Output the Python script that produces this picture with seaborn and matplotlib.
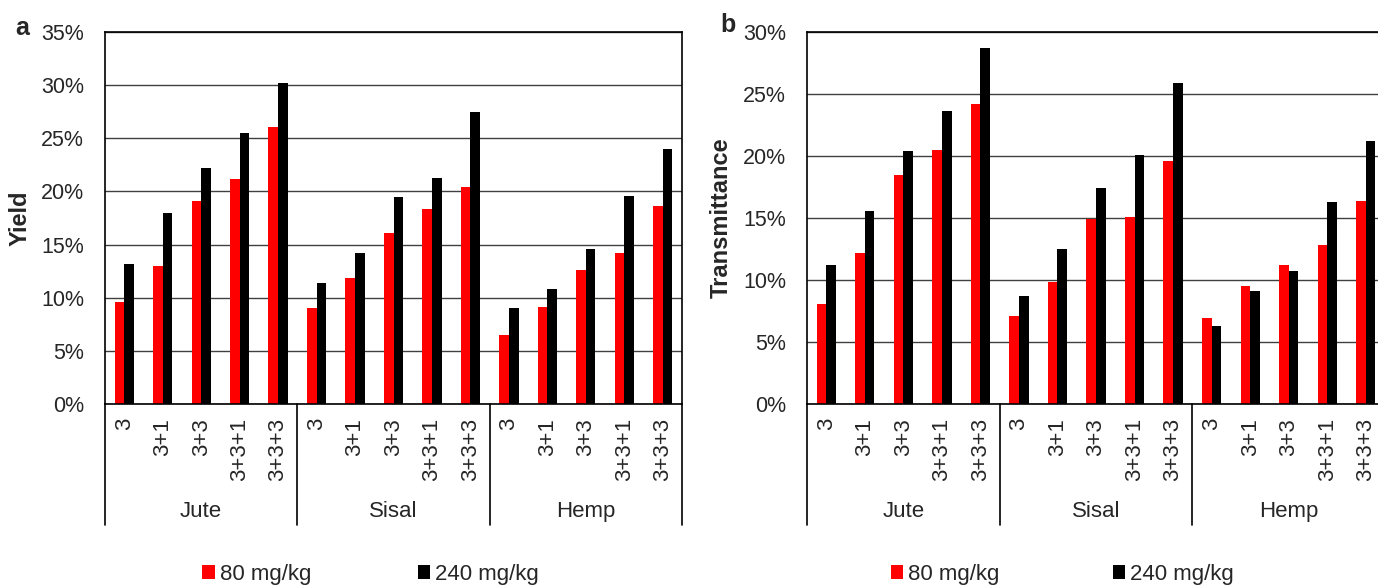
import numpy as np
import pandas as pd
import matplotlib
matplotlib.use('Agg')
import matplotlib.pyplot as plt
import seaborn as sns
from matplotlib.ticker import PercentFormatter, MultipleLocator
from matplotlib.transforms import blended_transform_factory

# data (percent values)
fibers = ['Jute', 'Sisal', 'Hemp']
treatments = ['3', '3+1', '3+3', '3+3+1', '3+3+3']
doses = ['80 mg/kg', '240 mg/kg']

yield_80 = [9.6, 13.0, 19.1, 21.2, 26.1,
            9.0, 11.9, 16.1, 18.3, 20.4,
            6.5, 9.1, 12.6, 14.2, 18.6]
yield_240 = [13.2, 18.0, 22.2, 25.5, 30.2,
             11.4, 14.2, 19.5, 21.3, 27.5,
             9.0, 10.8, 14.6, 19.6, 24.0]
trans_80 = [8.1, 12.2, 18.5, 20.5, 24.2,
            7.1, 9.8, 14.9, 15.1, 19.6,
            6.9, 9.5, 11.2, 12.8, 16.4]
trans_240 = [11.2, 15.6, 20.4, 23.6, 28.7,
             8.7, 12.5, 17.4, 20.1, 25.9,
             6.3, 9.1, 10.7, 16.3, 21.2]

sns.set_style('white')
plt.rcParams['font.family'] = ['Liberation Sans', 'DejaVu Sans']


def make_df(v80, v240):
    rows = []
    for i, f in enumerate(fibers):
        for j, t in enumerate(treatments):
            k = i * len(treatments) + j
            rows.append((f + '|' + t, doses[0], v80[k] / 100))
            rows.append((f + '|' + t, doses[1], v240[k] / 100))
    return pd.DataFrame(rows, columns=['cat', 'dose', 'value'])


def draw(ax, df, ymax, ylabel, label_x):
    sns.barplot(data=df, x='cat', y='value', hue='dose', hue_order=doses,
                palette=['#ff0000', '#000000'], width=0.5, errorbar=None,
                saturation=1, linewidth=0, ax=ax)
    n = len(fibers) * len(treatments)
    ax.set_ylim(0, ymax)
    ax.yaxis.set_major_locator(MultipleLocator(0.05))
    ax.yaxis.set_major_formatter(PercentFormatter(1.0, decimals=0))
    ax.yaxis.grid(True, color='#404040', lw=1)
    ax.xaxis.grid(False)
    ax.set_axisbelow(True)
    for s in ax.spines.values():
        s.set_visible(True)
        s.set_color('black')
        s.set_linewidth(1.2)
    ax.set_xlabel('')
    ax.set_ylabel(ylabel, fontweight='bold', fontsize=17)
    ax.yaxis.set_label_coords(label_x, 0.5)
    ax.tick_params(axis='y', length=0, pad=15, labelsize=15.5)
    ax.set_xticks(range(n))
    ax.set_xticklabels(treatments * len(fibers), rotation=90, va='top', ha='center')
    ax.tick_params(axis='x', length=0, pad=10, labelsize=16)

    # group separators and fiber names below the axis
    tr = blended_transform_factory(ax.transData, ax.transAxes)
    for b in np.arange(-0.5, n, len(treatments)):
        ax.plot([b, b], [0, -0.325], transform=tr, clip_on=False, color='black', lw=1.2)
    for i, f in enumerate(fibers):
        ax.text(i * len(treatments) + 2, -0.288, f, transform=tr,
                ha='center', va='center', fontsize=16)
    ax.set_xlim(-0.5, n - 0.5)

    handles, labels = ax.get_legend_handles_labels()
    ax.get_legend().remove()
    return handles, labels


fig = plt.figure(figsize=(13.78, 5.85), dpi=100)
ax1 = fig.add_axes([105 / 1378, 181 / 585, 577 / 1378, 372 / 585])
ax2 = fig.add_axes([807 / 1378, 181 / 585, 578 / 1378, 372 / 585])

h, l = draw(ax1, make_df(yield_80, yield_240), 0.35, 'Yield', -0.127)
draw(ax2, make_df(trans_80, trans_240), 0.30, 'Transmittance', -0.128)

for cx, cs in [(0.269, 4.8), (0.771, 5.1)]:
    fig.legend(h, l, loc='center', bbox_to_anchor=(cx, 0.018), ncol=2,
               frameon=False, handlelength=0.55, handleheight=0.55,
               handletextpad=0.23, columnspacing=cs, fontsize=16,
               borderpad=0, borderaxespad=0)

fig.text(22 / 1378, 1 - 28 / 585, 'a', fontweight='bold', fontsize=18, ha='center', va='center')
fig.text(728 / 1378, 1 - 25 / 585, 'b', fontweight='bold', fontsize=18, ha='center', va='center')

fig.savefig('out.png', dpi=100)
